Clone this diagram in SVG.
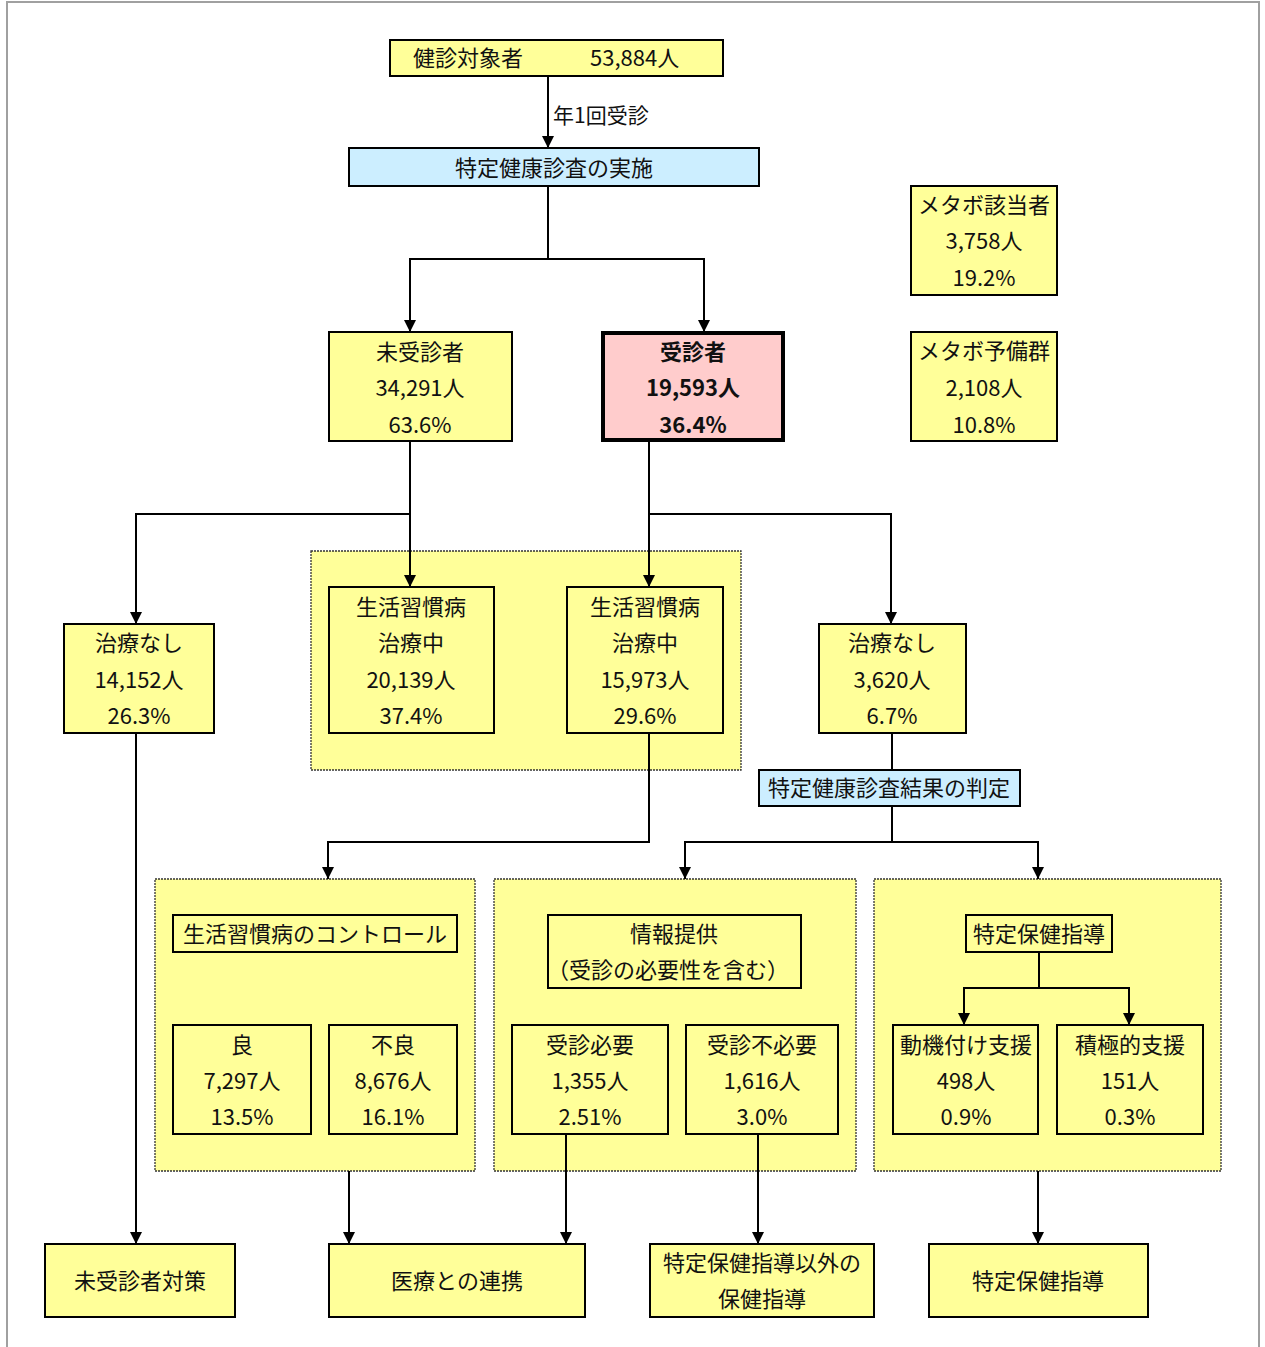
<svg xmlns="http://www.w3.org/2000/svg" width="1265" height="1347" viewBox="0 0 1265 1347">
<defs>
<marker id="arr" viewBox="0 0 12 12" refX="12" refY="6" markerWidth="14" markerHeight="12" orient="auto" markerUnits="userSpaceOnUse">
<path d="M0,0 L12,6 L0,12 z" fill="#000"/>
</marker>
<style>
text{font-family:"Noto Sans CJK JP","Noto Sans",sans-serif;font-size:22px;fill:#111;text-anchor:middle}
.y{fill:#ffff99;stroke:#000;stroke-width:2}
.b{fill:#cceeff;stroke:#000;stroke-width:2}
.p{fill:#ffcccc;stroke:#000;stroke-width:4}
.d{fill:#ffff99;stroke:#333;stroke-width:1.3;stroke-dasharray:2 1}
.c{fill:none;stroke:#000;stroke-width:2}
.a{fill:none;stroke:#000;stroke-width:2;marker-end:url(#arr)}
.bold{font-weight:bold}
</style>
</defs>
<rect width="1265" height="1347" fill="#fff"/>
<path d="M7,1347 V2 H1259 V1347" fill="none" stroke="#a0a0a0" stroke-width="2"/>

<g id="groups">
<rect id="grp-treat" class="d" x="311" y="551" width="430" height="219"/>
<rect id="grp-control" class="d" x="155" y="879" width="320" height="292"/>
<rect id="grp-info" class="d" x="494" y="879" width="362" height="292"/>
<rect id="grp-guidance" class="d" x="874" y="879" width="347" height="292"/>
</g>

<g id="connectors">
<line class="a" x1="548" y1="76" x2="548" y2="148"/>
<polyline class="c" points="548,186 548,259"/>
<polyline class="a" points="548,259 410,259 410,332"/>
<polyline class="a" points="548,259 704,259 704,332"/>
<line class="a" x1="410" y1="441" x2="410" y2="587"/>
<polyline class="a" points="410,514 136,514 136,624"/>
<line class="a" x1="649" y1="442" x2="649" y2="587"/>
<polyline class="a" points="649,514 891,514 891,624"/>
<line class="c" x1="892" y1="733" x2="892" y2="770"/>
<polyline class="a" points="649,733 649,842 328,842 328,879"/>
<polyline class="c" points="892,806 892,842"/>
<polyline class="a" points="892,842 685,842 685,879"/>
<polyline class="a" points="892,842 1038,842 1038,879"/>
<polyline class="c" points="1039,952 1039,988"/>
<polyline class="a" points="1039,988 964,988 964,1025"/>
<polyline class="a" points="1039,988 1129,988 1129,1025"/>
<line class="a" x1="136" y1="733" x2="136" y2="1244"/>
<line class="a" x1="349" y1="1171" x2="349" y2="1244"/>
<line class="a" x1="566" y1="1134" x2="566" y2="1244"/>
<line class="a" x1="758" y1="1134" x2="758" y2="1244"/>
<line class="a" x1="1038" y1="1171" x2="1038" y2="1244"/>
<text x="553" y="123" style="text-anchor:start;font-size:21px">年1回受診</text>
</g>

<g id="n-target">
<rect class="y" x="390" y="40" width="333" height="36"/>
<text x="413" y="66" style="text-anchor:start">健診対象者</text>
<text x="590" y="66" style="text-anchor:start">53,884人</text>
</g>
<g id="n-exam">
<rect class="b" x="349" y="148" width="410" height="38"/>
<text x="554" y="176">特定健康診査の実施</text>
</g>
<g id="n-metabo">
<rect class="y" x="911" y="186" width="146" height="109"/>
<text x="984" y="213">メタボ該当者</text>
<text x="984" y="249">3,758人</text>
<text x="984" y="286">19.2%</text>
</g>
<g id="n-premetabo">
<rect class="y" x="911" y="332" width="146" height="109"/>
<text x="984" y="359">メタボ予備群</text>
<text x="984" y="396">2,108人</text>
<text x="984" y="433">10.8%</text>
</g>
<g id="n-nonexam">
<rect class="y" x="329" y="332" width="183" height="109"/>
<text x="420" y="360">未受診者</text>
<text x="420" y="396">34,291人</text>
<text x="420" y="433">63.6%</text>
</g>
<g id="n-examined">
<rect class="p" x="603" y="333" width="180" height="107"/>
<text class="bold" x="693" y="360">受診者</text>
<text class="bold" x="693" y="396">19,593人</text>
<text class="bold" x="693" y="433">36.4%</text>
</g>
<g id="n-notreat-left">
<rect class="y" x="64" y="624" width="150" height="109"/>
<text x="139" y="651">治療なし</text>
<text x="139" y="688">14,152人</text>
<text x="139" y="724">26.3%</text>
</g>
<g id="n-treat1">
<rect class="y" x="329" y="587" width="165" height="146"/>
<text x="411" y="615">生活習慣病</text>
<text x="411" y="651">治療中</text>
<text x="411" y="688">20,139人</text>
<text x="411" y="724">37.4%</text>
</g>
<g id="n-treat2">
<rect class="y" x="567" y="587" width="156" height="146"/>
<text x="645" y="615">生活習慣病</text>
<text x="645" y="651">治療中</text>
<text x="645" y="688">15,973人</text>
<text x="645" y="724">29.6%</text>
</g>
<g id="n-notreat-right">
<rect class="y" x="819" y="624" width="147" height="109"/>
<text x="892" y="651">治療なし</text>
<text x="892" y="688">3,620人</text>
<text x="892" y="724">6.7%</text>
</g>
<g id="n-judge">
<rect class="b" x="759" y="770" width="261" height="36"/>
<text x="889" y="796">特定健康診査結果の判定</text>
</g>
<g id="n-control">
<rect class="y" x="173" y="915" width="284" height="37"/>
<text x="315" y="942">生活習慣病のコントロール</text>
</g>
<g id="n-good">
<rect class="y" x="173" y="1025" width="138" height="109"/>
<text x="242" y="1053">良</text>
<text x="242" y="1089">7,297人</text>
<text x="242" y="1125">13.5%</text>
</g>
<g id="n-bad">
<rect class="y" x="329" y="1025" width="128" height="109"/>
<text x="393" y="1053">不良</text>
<text x="393" y="1089">8,676人</text>
<text x="393" y="1125">16.1%</text>
</g>
<g id="n-info">
<rect class="y" x="548" y="915" width="253" height="73"/>
<text x="674" y="942">情報提供</text>
<text x="668" y="978">（受診の必要性を含む）</text>
</g>
<g id="n-need">
<rect class="y" x="512" y="1025" width="156" height="109"/>
<text x="590" y="1053">受診必要</text>
<text x="590" y="1089">1,355人</text>
<text x="590" y="1125">2.51%</text>
</g>
<g id="n-noneed">
<rect class="y" x="686" y="1025" width="152" height="109"/>
<text x="762" y="1053">受診不必要</text>
<text x="762" y="1089">1,616人</text>
<text x="762" y="1125">3.0%</text>
</g>
<g id="n-guidance">
<rect class="y" x="966" y="915" width="146" height="37"/>
<text x="1039" y="942">特定保健指導</text>
</g>
<g id="n-motive">
<rect class="y" x="893" y="1025" width="145" height="109"/>
<text x="966" y="1053">動機付け支援</text>
<text x="966" y="1089">498人</text>
<text x="966" y="1125">0.9%</text>
</g>
<g id="n-active">
<rect class="y" x="1057" y="1025" width="146" height="109"/>
<text x="1130" y="1053">積極的支援</text>
<text x="1130" y="1089">151人</text>
<text x="1130" y="1125">0.3%</text>
</g>
<g id="n-out1">
<rect class="y" x="45" y="1244" width="190" height="73"/>
<text x="140" y="1289">未受診者対策</text>
</g>
<g id="n-out2">
<rect class="y" x="329" y="1244" width="256" height="73"/>
<text x="457" y="1289">医療との連携</text>
</g>
<g id="n-out3">
<rect class="y" x="650" y="1244" width="224" height="73"/>
<text x="762" y="1271">特定保健指導以外の</text>
<text x="762" y="1307">保健指導</text>
</g>
<g id="n-out4">
<rect class="y" x="929" y="1244" width="219" height="73"/>
<text x="1038" y="1289">特定保健指導</text>
</g>
</svg>
